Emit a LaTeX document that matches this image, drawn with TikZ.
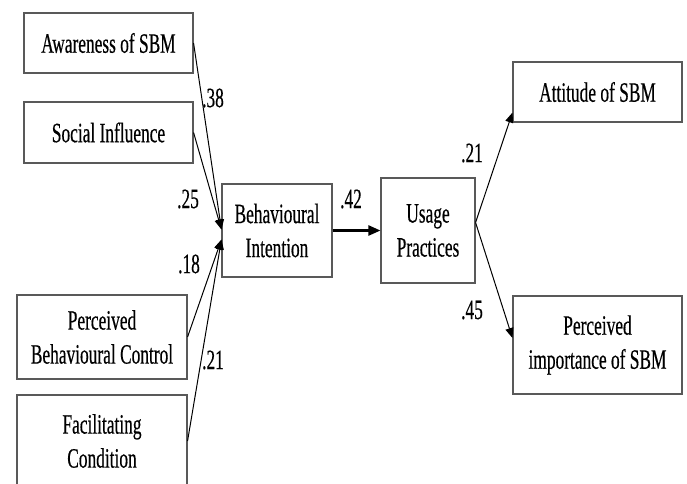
\documentclass[tikz,border=0pt]{standalone}
\usepackage{fontspec}
\setmainfont{Liberation Serif}[FakeStretch=0.62,FakeBold=0.4]
\usetikzlibrary{arrows.meta}

\tikzset{
  box/.style={draw=black!65, line width=1.1pt, fill=white, align=center, inner sep=0pt},
  link/.style={line width=1pt, -{Triangle[length=10pt,width=8pt]}},
  coef/.style={inner sep=0pt},
}

\begin{document}
\begin{tikzpicture}[x=1pt,y=-1pt,font=\fontsize{28}{34}\selectfont]
\clip (0,0) rectangle (687,483);
% predictors
\node[box, minimum width=169pt, minimum height=60pt] (aware) at (108.5,43) {Awareness of SBM};
\node[box, minimum width=169pt, minimum height=61pt] (social) at (108.5,132.5) {Social Influence};
\node[box, minimum width=170pt, minimum height=84pt] (pbc) at (102,337) {Perceived\\Behavioural Control};
\node[box, minimum width=170pt, minimum height=92pt] (fc) at (102,441) {Facilitating\\Condition};
% mediators
\node[box, minimum width=110pt, minimum height=93pt] (bi) at (277,230.5) {Behavioural\\Intention};
\node[box, minimum width=94pt, minimum height=105pt] (up) at (428,230.5) {Usage\\Practices};
% outcomes
\node[box, minimum width=169pt, minimum height=60pt] (att) at (597.5,92) {Attitude of SBM};
\node[box, minimum width=169pt, minimum height=98pt] (pim) at (597.5,345) {Perceived\\importance of SBM};

\coordinate (bi in1) at ([yshift=1pt]bi.west);
\coordinate (bi in2) at ([yshift=-9pt]bi.west);
\coordinate (up out) at ([yshift=8pt]up.east);

\draw[link] (aware.east) -- (bi in1);
\draw[link] (social.east) -- (bi in1);
\draw[link] (pbc.east) -- (bi in2);
\draw[link] (fc.east) -- (bi in2);
\draw[link, line width=2.3pt, -{Triangle[length=12pt,width=10pt]}] (bi.east) -- (up.west);
\draw[link] (up out) -- ([yshift=10pt]att.south west);
\draw[link] (up out) -- ([yshift=7pt]pim.west);

% path coefficients
\node[coef] (c aware) at (213,98) {.38};
\node[coef] (c social) at (188,199) {.25};
\node[coef] (c pbc) at (189,264) {.18};
\node[coef] (c fc) at (213,360) {.21};
\node[coef] (c bi) at (351,199) {.42};
\node[coef] (c att) at (472,153) {.21};
\node[coef] (c pim) at (472,310) {.45};
\end{tikzpicture}
\end{document}
